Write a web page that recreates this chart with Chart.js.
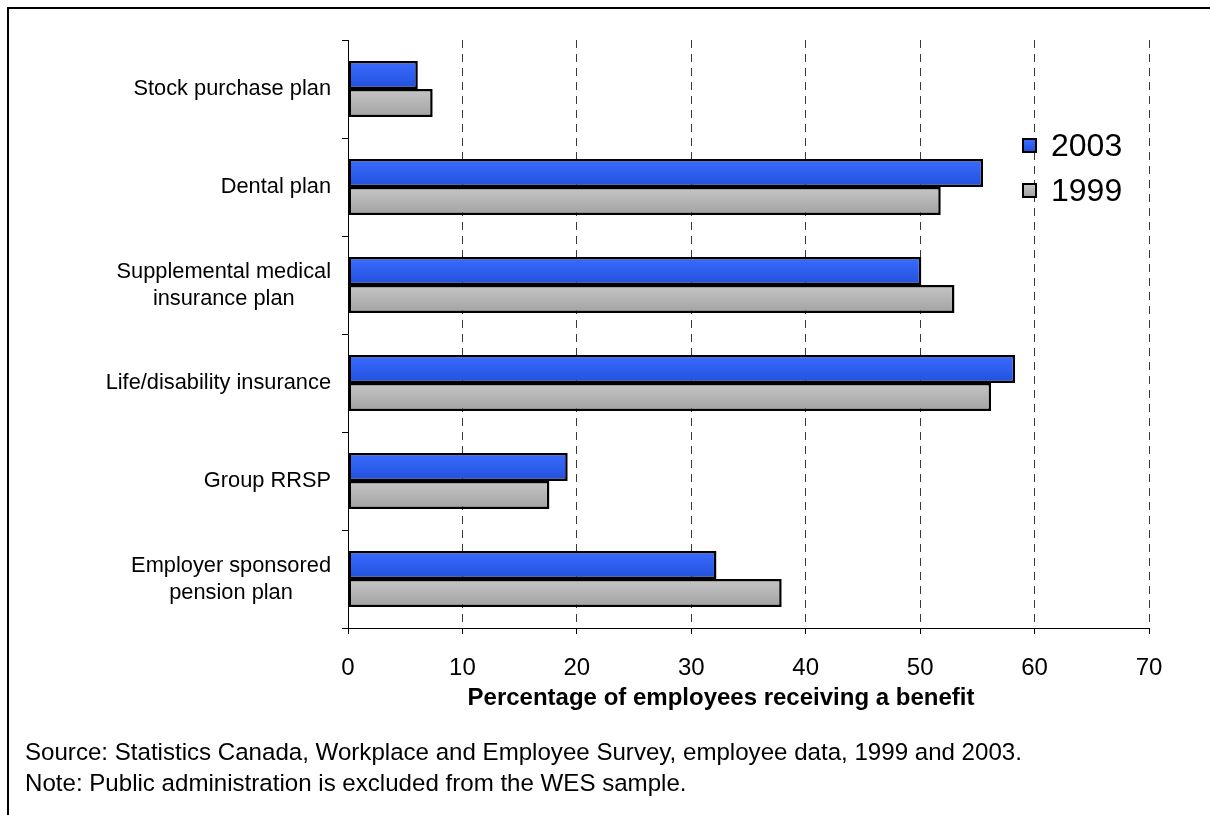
<!DOCTYPE html>
<html>
<head>
<meta charset="utf-8">
<title>Employee benefits, 1999 and 2003</title>
<script src="https://cdn.jsdelivr.net/npm/chart.js@4/dist/chart.umd.min.js"></script>
<style>
  html, body { margin: 0; padding: 0; background: #fff; overflow: hidden; }
  body { font-family: "Liberation Sans", Arial, sans-serif; color: #000; }
  #wrap { position: relative; width: 1210px; height: 815px; overflow: hidden; }
  #frame { position: absolute; left: 7px; top: 7px; width: 1300px; height: 900px; border: 2px solid #000; }
  #chart { position: absolute; left: 0; top: 0; }
  #legend { position: absolute; left: 1022px; top: 123px; font-size: 32px; }
  .legend-item { display: flex; align-items: center; height: 45px; }
  .swatch { width: 11px; height: 11px; border: 2px solid #000; margin-right: 14px; }
  #axis-title { position: absolute; left: 421px; width: 600px; top: 683px; text-align: center; font-weight: bold; font-size: 24px; }
  #notes { position: absolute; left: 25px; top: 736px; font-size: 24.1px; line-height: 31px; }
</style>
</head>
<body>
<div id="wrap">
  <div id="frame"></div>
  <canvas id="chart" width="1210" height="815"></canvas>
  <div id="legend"></div>
  <div id="axis-title">Percentage of employees receiving a benefit</div>
  <div id="notes">
    <div>Source: Statistics Canada, Workplace and Employee Survey, employee data, 1999 and 2003.</div>
    <div>Note: Public administration is excluded from the WES sample.</div>
  </div>
</div>
<script>
// DATA
const categories = [
  ["Stock purchase plan"],
  ["Dental plan"],
  ["Supplemental medical", "insurance plan"],
  ["Life/disability insurance"],
  ["Group RRSP"],
  ["Employer sponsored", "pension plan"]
];
const seriesNames = ["2003", "1999"];
const values2003 = [6.1, 55.5, 50.1, 58.3, 19.2, 32.2];
const values1999 = [7.4, 51.8, 53.0, 56.2, 17.6, 37.9];
const xTicks = [0, 10, 20, 30, 40, 50, 60, 70];

// bar colours: top / bottom of the gradient
const blue = ["#3a6cff", "#2250dc"];
const grey = ["#c6c6c6", "#a2a2a2"];

const CAT_PCT = 0.57;
const FONT = '"Liberation Sans", Arial, sans-serif';

// vertical gradient across each single bar
function barFill(colors) {
  return (c) => {
    const chart = c.chart;
    const y = chart.scales.y;
    if (!y || c.dataIndex === undefined || !chart.chartArea) return colors[1];
    const center = y.getPixelForValue(c.dataIndex);
    const band = y.height / categories.length;
    const half = band * CAT_PCT / 2;
    const top = c.datasetIndex === 0 ? center - half : center;
    const g = chart.ctx.createLinearGradient(0, top, 0, top + half);
    g.addColorStop(0, colors[0]);
    g.addColorStop(1, colors[1]);
    return g;
  };
}

// category labels: block right-aligned to the axis, lines centred inside
const categoryLabels = {
  id: "categoryLabels",
  afterDraw(chart) {
    const ctx = chart.ctx;
    const y = chart.scales.y;
    const right = chart.chartArea.left - 17;
    const lineH = 27;
    ctx.save();
    ctx.font = "21.8px " + FONT;
    ctx.fillStyle = "#000";
    ctx.textAlign = "center";
    ctx.textBaseline = "middle";
    categories.forEach((lines, i) => {
      const w = Math.max(...lines.map((l) => ctx.measureText(l).width));
      const cx = right - w / 2;
      const cy = y.getPixelForValue(i);
      lines.forEach((l, k) => {
        ctx.fillText(l, cx, cy + (k - (lines.length - 1) / 2) * lineH);
      });
    });
    ctx.restore();
  }
};

// legend
const legend = document.getElementById("legend");
[[seriesNames[0], blue], [seriesNames[1], grey]].forEach(([name, col]) => {
  const item = document.createElement("div");
  item.className = "legend-item";
  const sw = document.createElement("div");
  sw.className = "swatch";
  sw.style.background = `linear-gradient(${col[0]}, ${col[1]})`;
  item.appendChild(sw);
  item.appendChild(document.createTextNode(name));
  legend.appendChild(item);
});

new Chart(document.getElementById("chart"), {
  type: "bar",
  data: {
    labels: categories,
    datasets: [
      {
        label: seriesNames[0],
        data: values2003,
        backgroundColor: barFill(blue),
        borderColor: "#000",
        borderWidth: 2.5,
        borderSkipped: false
      },
      {
        label: seriesNames[1],
        data: values1999,
        backgroundColor: barFill(grey),
        borderColor: "#000",
        borderWidth: 2.5,
        borderSkipped: false
      }
    ]
  },
  options: {
    indexAxis: "y",
    responsive: false,
    animation: false,
    devicePixelRatio: 1,
    datasets: { bar: { categoryPercentage: CAT_PCT, barPercentage: 1 } },
    layout: { padding: { top: 40, right: 61, left: 0, bottom: 0 } },
    plugins: { legend: { display: false }, tooltip: { enabled: false } },
    scales: {
      x: {
        min: 0,
        max: 70,
        afterFit: (s) => { s.height = 187; },
        afterBuildTicks: (s) => { s.ticks = xTicks.map((v) => ({ value: v })); },
        grid: {
          color: (c) => (c.tick && c.tick.value === 0 ? "rgba(0,0,0,0)" : "#3a3a3a"),
          lineWidth: 1,
          drawTicks: true,
          tickLength: 6,
          tickColor: "#000"
        },
        border: { display: true, color: "#000", width: 1, dash: [8, 6] },
        ticks: {
          color: "#000",
          padding: 20,
          maxRotation: 0,
          font: { family: FONT, size: 24 }
        }
      },
      y: {
        type: "category",
        offset: true,
        afterFit: (s) => { s.width = 348; },
        grid: {
          offset: true,
          drawOnChartArea: false,
          drawTicks: true,
          tickLength: 6,
          tickColor: "#000"
        },
        border: { display: true, color: "#000", width: 1 },
        ticks: { display: false }
      }
    }
  },
  plugins: [categoryLabels]
});
</script>
</body>
</html>
